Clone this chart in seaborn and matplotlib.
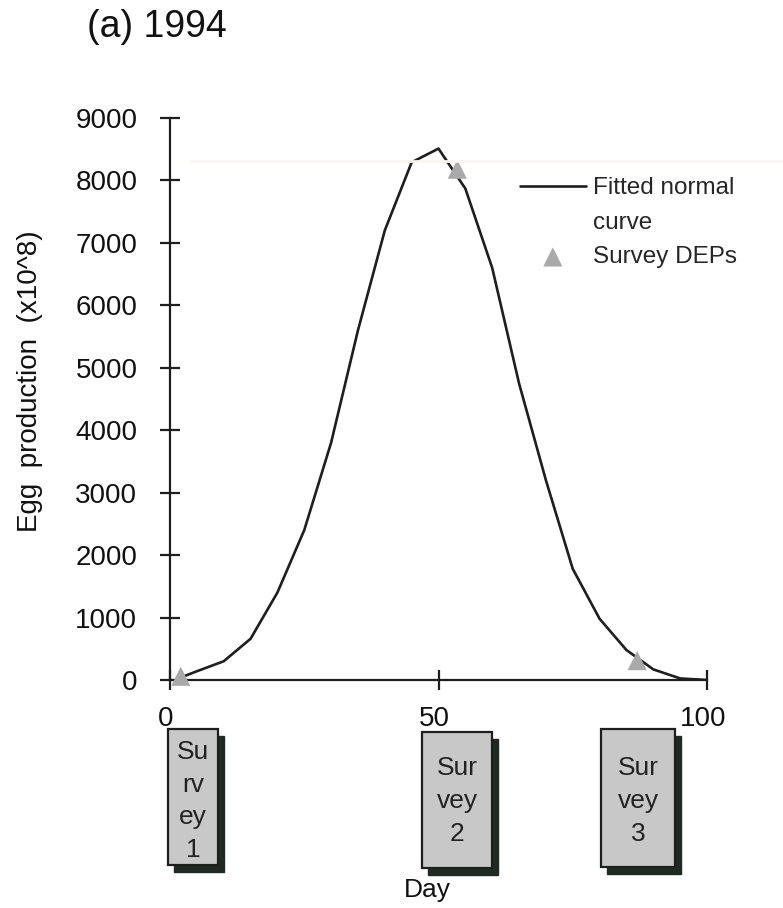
import numpy as np
import pandas as pd
import matplotlib
matplotlib.use("Agg")
import matplotlib.pyplot as plt
import matplotlib.transforms as mtransforms
import seaborn as sns
from matplotlib.patches import Rectangle
from matplotlib.lines import Line2D

# ---------------- data ----------------
days = [2, 5, 10, 15, 20, 25, 30, 35, 40, 45, 50, 55, 60, 65, 70, 75, 80, 85, 90, 95, 100]
fitted = [40, 140, 300, 660, 1400, 2400, 3800, 5600, 7200, 8290, 8510, 7870, 6600,
          4750, 3200, 1780, 980, 480, 170, 25, 0]
survey_days = [2, 53.5, 87]
survey_dep = [60, 8180, 310]
survey_labels = ["Su\nrv\ney\n1", "Sur\nvey\n2", "Sur\nvey\n3"]
x_ticks = [0, 50, 100]
y_ticks = list(range(0, 9001, 1000))

curve_df = pd.DataFrame({"Day": days, "EP": fitted})
survey_df = pd.DataFrame({"Day": survey_days, "EP": survey_dep})

# ---------------- style ----------------
sns.set_theme(style="white")
plt.rcParams['font.family'] = ['Liberation Sans', 'DejaVu Sans']

W, H = 783, 908
fig = plt.figure(figsize=(W / 100, H / 100), dpi=100)
ax = fig.add_axes([170 / W, 1 - 680 / H, 537 / W, 562 / H])
ax.patch.set_alpha(0)

INK = "#1e1e1e"

sns.lineplot(data=curve_df, x="Day", y="EP", ax=ax, color=INK, lw=1.9,
             label="Fitted normal", zorder=2)
sns.scatterplot(data=survey_df, x="Day", y="EP", ax=ax, marker="^", s=190,
                color="#a9a9a9", edgecolor="none", label="Survey DEPs",
                zorder=3, clip_on=False)

ax.set_xlim(0, 100)
ax.set_ylim(0, 9000)
ax.set_xticks(x_ticks)
ax.set_yticks(y_ticks)
ax.set_xticklabels([str(v) for v in x_ticks])
ax.set_yticklabels([str(v) for v in y_ticks])

for s in ["top", "right"]:
    ax.spines[s].set_visible(False)
for s in ["left", "bottom"]:
    ax.spines[s].set_color(INK)
    ax.spines[s].set_linewidth(1.6)

ax.tick_params(axis="both", which="major", bottom=True, left=True,
               direction="inout", length=14, width=1.6, color=INK,
               labelcolor="#111111", labelsize=20)
ax.tick_params(axis="y", pad=16.5)
ax.tick_params(axis="x", pad=12)
shift = mtransforms.ScaledTranslation(-4 / 100, 0, fig.dpi_scale_trans)
for lab in ax.get_xticklabels():
    lab.set_transform(lab.get_transform() + shift)

ax.set_ylabel("Egg  production  (x10^8)", fontsize=20, color="#111111")
ax.yaxis.set_label_coords(-0.2365, 0.532)
ax.set_xlabel("Day", fontsize=19, color="#111111")
ax.xaxis.set_label_coords(0.4786, -0.352)

handles, labels = ax.get_legend_handles_labels()
blank = Line2D([], [], alpha=0)
leg = ax.legend([handles[0], blank, handles[1]],
                [labels[0], "curve", labels[1]], loc="upper left",
                bbox_to_anchor=(520 / W, 1 - 177 / H), bbox_transform=fig.transFigure,
                frameon=False, fontsize=17.5, handlelength=2.7, handletextpad=0.3,
                labelspacing=0.52, borderpad=0, borderaxespad=0)

# title
fig.text(87 / W, 1 - 27 / H, "(a) 1994", fontsize=27, ha="left", va="center",
         color="#111111")

# faint scan line
fig.add_artist(Line2D([190 / W, 1.0], [1 - 161 / H, 1 - 161 / H],
                      transform=fig.transFigure, color="#f7f7ee", lw=2.0,
                      zorder=0.5))

# survey boxes (layout in pixels: left, top, right, bottom)
boxes = [(168, 729, 218, 865), (422, 732, 492, 868), (601, 729, 675, 867)]
for (l, t, r, b), lab in zip(boxes, survey_labels):
    fig.add_artist(Rectangle(((l + 6) / W, 1 - (b + 7) / H), (r - l) / W, (b - t) / H,
                             transform=fig.transFigure, facecolor="#1f2a24",
                             edgecolor="#1f2a24", lw=1.0, zorder=4))
    fig.add_artist(Rectangle((l / W, 1 - b / H), (r - l) / W, (b - t) / H,
                             transform=fig.transFigure, facecolor="#c8c8c8",
                             edgecolor=INK, lw=1.6, zorder=5))
    fig.text((l + r) / 2 / W, 1 - 801 / H, lab, ha="center", va="center",
             fontsize=19, linespacing=1.45, color="#222222", zorder=6)

fig.savefig("out.png", dpi=100)
